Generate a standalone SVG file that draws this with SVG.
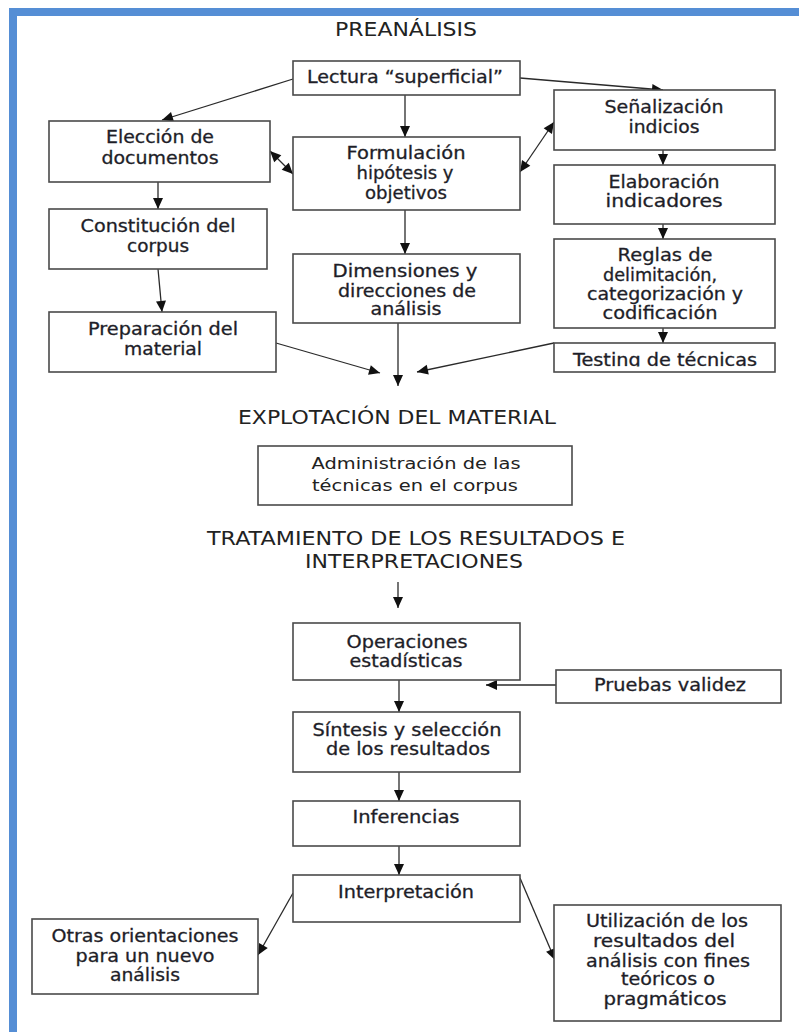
<svg xmlns="http://www.w3.org/2000/svg" width="799" height="1032" viewBox="0 0 799 1032">
<style>
.box{fill:#fff;stroke:#4a4a4a;stroke-width:1.6}
.t{font-family:"DejaVu Sans",Verdana,sans-serif;font-size:17px;fill:#1e1e28;stroke:#1e1e28;stroke-width:0.3;text-anchor:middle}
.h{font-family:"DejaVu Sans",Tahoma,sans-serif;font-size:19px;fill:#222;text-anchor:middle}
.s{font-family:"DejaVu Sans",Tahoma,sans-serif;font-size:15.5px;fill:#222;text-anchor:middle}
.c{fill:none;stroke:#2a2a2a;stroke-width:1.3}
</style>
<defs>
<marker id="ah" markerUnits="userSpaceOnUse" markerWidth="13" markerHeight="13" viewBox="0 0 13 13" refX="12" refY="6.5" orient="auto">
<path d="M1,1.5 L12,6.5 L1,11.5 z" fill="#111"/>
</marker>
<marker id="as" markerUnits="userSpaceOnUse" markerWidth="13" markerHeight="13" viewBox="0 0 13 13" refX="1" refY="6.5" orient="auto">
<path d="M12,1.5 L1,6.5 L12,11.5 z" fill="#111"/>
</marker>
<clipPath id="clipT"><rect x="554" y="343" width="221" height="23.5"/></clipPath>
</defs>
<rect x="0" y="0" width="799" height="1032" fill="#fff"/>
<g id="frame" fill="#558ed5">
<rect x="9" y="8" width="790" height="8"/>
<rect x="9" y="8" width="8" height="1024"/>
</g>

<g id="headings">
<text class="h" x="406" y="36" textLength="142" lengthAdjust="spacingAndGlyphs">PREANÁLISIS</text>
<text class="h" x="397" y="424" textLength="318" lengthAdjust="spacingAndGlyphs">EXPLOTACIÓN DEL MATERIAL</text>
<text class="h" x="416" y="545" textLength="418" lengthAdjust="spacingAndGlyphs">TRATAMIENTO DE LOS RESULTADOS E</text>
<text class="h" x="414" y="568" textLength="218" lengthAdjust="spacingAndGlyphs">INTERPRETACIONES</text>
</g>

<g id="connectors" class="c">
<line x1="293" y1="79" x2="162" y2="120" marker-end="url(#ah)"/>
<line x1="405" y1="95" x2="405" y2="137" marker-end="url(#ah)"/>
<line x1="520" y1="78" x2="663" y2="90" marker-end="url(#ah)"/>
<line x1="270" y1="151" x2="293" y2="174" marker-start="url(#as)" marker-end="url(#ah)"/>
<line x1="520" y1="172" x2="554" y2="122" marker-start="url(#as)" marker-end="url(#ah)"/>
<line x1="663" y1="150" x2="663" y2="165" marker-end="url(#ah)"/>
<line x1="663" y1="224" x2="663" y2="239" marker-end="url(#ah)"/>
<line x1="663" y1="328" x2="663" y2="343" marker-end="url(#ah)"/>
<line x1="158" y1="182" x2="158" y2="209" marker-end="url(#ah)"/>
<line x1="158" y1="269" x2="162" y2="312" marker-end="url(#ah)"/>
<line x1="405" y1="210" x2="405" y2="254" marker-end="url(#ah)"/>
<line x1="276" y1="343" x2="380" y2="373" marker-end="url(#ah)"/>
<line x1="398" y1="323" x2="398" y2="386" marker-end="url(#ah)"/>
<line x1="554" y1="343" x2="417" y2="372" marker-end="url(#ah)"/>
<line x1="398" y1="582" x2="398" y2="608" marker-end="url(#ah)"/>
<line x1="556" y1="685" x2="486" y2="685" marker-end="url(#ah)"/>
<line x1="399" y1="680" x2="399" y2="712" marker-end="url(#ah)"/>
<line x1="399" y1="772" x2="399" y2="801" marker-end="url(#ah)"/>
<line x1="399" y1="846" x2="399" y2="875" marker-end="url(#ah)"/>
<line x1="293" y1="893" x2="258" y2="955" marker-end="url(#ah)"/>
<line x1="520" y1="878" x2="555" y2="960" marker-end="url(#ah)"/>
</g>

<g id="n-lectura"><rect class="box" x="293" y="61" width="227" height="34"/>
<text class="t" x="405" y="83" textLength="196" lengthAdjust="spacingAndGlyphs">Lectura “superficial”</text></g>

<g id="n-eleccion"><rect class="box" x="49" y="121" width="221" height="61"/>
<text class="t" x="160" y="143" textLength="108" lengthAdjust="spacingAndGlyphs">Elección de</text>
<text class="t" x="160" y="164" textLength="117" lengthAdjust="spacingAndGlyphs">documentos</text></g>

<g id="n-formulacion"><rect class="box" x="293" y="137" width="227" height="73"/>
<text class="t" x="406" y="159" textLength="119" lengthAdjust="spacingAndGlyphs">Formulación</text>
<text class="t" x="405" y="179" textLength="97" lengthAdjust="spacingAndGlyphs">hipótesis y</text>
<text class="t" x="406" y="199" textLength="82" lengthAdjust="spacingAndGlyphs">objetivos</text></g>

<g id="n-senalizacion"><rect class="box" x="554" y="90" width="221" height="60"/>
<text class="t" x="664" y="113" textLength="119" lengthAdjust="spacingAndGlyphs">Señalización</text>
<text class="t" x="664" y="133" textLength="71" lengthAdjust="spacingAndGlyphs">indicios</text></g>

<g id="n-elaboracion"><rect class="box" x="554" y="165" width="221" height="59"/>
<text class="t" x="664" y="188" textLength="111" lengthAdjust="spacingAndGlyphs">Elaboración</text>
<text class="t" x="664" y="207" textLength="117" lengthAdjust="spacingAndGlyphs">indicadores</text></g>

<g id="n-reglas"><rect class="box" x="554" y="239" width="221" height="89"/>
<text class="t" x="665" y="261" textLength="95" lengthAdjust="spacingAndGlyphs">Reglas de</text>
<text class="t" x="660" y="281" textLength="114" lengthAdjust="spacingAndGlyphs">delimitación,</text>
<text class="t" x="665" y="300" textLength="156" lengthAdjust="spacingAndGlyphs">categorización y</text>
<text class="t" x="660" y="319" textLength="115" lengthAdjust="spacingAndGlyphs">codificación</text></g>

<g id="n-testing"><rect class="box" x="554" y="343" width="221" height="29"/>
<text class="t" x="665" y="366" textLength="184" lengthAdjust="spacingAndGlyphs" clip-path="url(#clipT)">Testing de técnicas</text></g>

<g id="n-constitucion"><rect class="box" x="49" y="209" width="218" height="60"/>
<text class="t" x="158" y="232" textLength="155" lengthAdjust="spacingAndGlyphs">Constitución del</text>
<text class="t" x="158" y="252" textLength="62" lengthAdjust="spacingAndGlyphs">corpus</text></g>

<g id="n-preparacion"><rect class="box" x="49" y="312" width="227" height="60"/>
<text class="t" x="163" y="335" textLength="150" lengthAdjust="spacingAndGlyphs">Preparación del</text>
<text class="t" x="163" y="355" textLength="78" lengthAdjust="spacingAndGlyphs">material</text></g>

<g id="n-dimensiones"><rect class="box" x="293" y="254" width="227" height="69"/>
<text class="t" x="405" y="277" textLength="145" lengthAdjust="spacingAndGlyphs">Dimensiones y</text>
<text class="t" x="407" y="297" textLength="138" lengthAdjust="spacingAndGlyphs">direcciones de</text>
<text class="t" x="406" y="315" textLength="71" lengthAdjust="spacingAndGlyphs">análisis</text></g>

<g id="n-administracion"><rect class="box" x="258" y="446" width="314" height="59"/>
<text class="s" x="416" y="469" textLength="209" lengthAdjust="spacingAndGlyphs">Administración de las</text>
<text class="s" x="415" y="491" textLength="206" lengthAdjust="spacingAndGlyphs">técnicas en el corpus</text></g>

<g id="n-operaciones"><rect class="box" x="293" y="623" width="227" height="57"/>
<text class="t" x="407" y="648" textLength="121" lengthAdjust="spacingAndGlyphs">Operaciones</text>
<text class="t" x="406" y="667" textLength="113" lengthAdjust="spacingAndGlyphs">estadísticas</text></g>

<g id="n-pruebas"><rect class="box" x="556" y="670" width="225" height="33"/>
<text class="t" x="670" y="691" textLength="152" lengthAdjust="spacingAndGlyphs">Pruebas validez</text></g>

<g id="n-sintesis"><rect class="box" x="293" y="712" width="227" height="60"/>
<text class="t" x="407" y="736" textLength="189" lengthAdjust="spacingAndGlyphs">Síntesis y selección</text>
<text class="t" x="408" y="755" textLength="164" lengthAdjust="spacingAndGlyphs">de los resultados</text></g>

<g id="n-inferencias"><rect class="box" x="293" y="801" width="227" height="45"/>
<text class="t" x="406" y="823" textLength="107" lengthAdjust="spacingAndGlyphs">Inferencias</text></g>

<g id="n-interpretacion"><rect class="box" x="293" y="875" width="227" height="47"/>
<text class="t" x="406" y="898" textLength="136" lengthAdjust="spacingAndGlyphs">Interpretación</text></g>

<g id="n-otras"><rect class="box" x="32" y="919" width="226" height="75"/>
<text class="t" x="145" y="942" textLength="187" lengthAdjust="spacingAndGlyphs">Otras orientaciones</text>
<text class="t" x="145" y="962" textLength="139" lengthAdjust="spacingAndGlyphs">para un nuevo</text>
<text class="t" x="145" y="981" textLength="70" lengthAdjust="spacingAndGlyphs">análisis</text></g>

<g id="n-utilizacion"><rect class="box" x="554" y="905" width="227" height="116"/>
<text class="t" x="667" y="927" textLength="162" lengthAdjust="spacingAndGlyphs">Utilización de los</text>
<text class="t" x="664" y="947" textLength="142" lengthAdjust="spacingAndGlyphs">resultados del</text>
<text class="t" x="668" y="967" textLength="164" lengthAdjust="spacingAndGlyphs">análisis con fines</text>
<text class="t" x="668" y="985" textLength="94" lengthAdjust="spacingAndGlyphs">teóricos o</text>
<text class="t" x="665" y="1005" textLength="123" lengthAdjust="spacingAndGlyphs">pragmáticos</text></g>
</svg>
